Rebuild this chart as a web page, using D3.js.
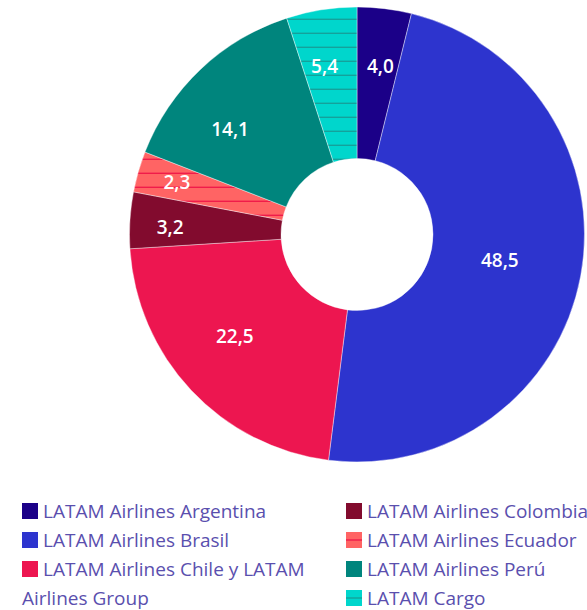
<!DOCTYPE html>
<html>
<head>
<meta charset="utf-8">
<script src="https://cdn.jsdelivr.net/npm/d3@7"></script>
<style>
  body { margin: 0; background: #fff; }
  svg text { font-family: "Open Sans", "Noto Sans", sans-serif; }
</style>
</head>
<body>
<div id="vis"></div>
<script>
// data
var companies = ["LATAM Airlines Argentina", "LATAM Airlines Brasil", "LATAM Airlines Chile y LATAM Airlines Group",
    "LATAM Airlines Colombia", "LATAM Airlines Ecuador", "LATAM Airlines Perú", "LATAM Cargo"];
// slice sizes as drawn in the picture (the printed labels differ a little)
var sliceShares = [3.85, 48.15, 22.0, 4.0, 2.9, 14.1, 5.0];
var valueLabels = ["4,0", "48,5", "22,5", "3,2", "2,3", "14,1", "5,4"];

var colors = ["#1b0088", "#2d34ce", "#ed1650", "#820b2e", "#ff6464", "#00857d", "#00d6cc"];
var hatchColors = [null, null, null, null, "#f01c4a", null, "#14a19b"];

// layout
var width = 587, height = 610;
var cx = 357, cy = 234.5, outerR = 227.5, innerR = 76;
// where each value label sits: [degrees clockwise from top, radius]
var labelPolar = [[7.9, 170], [100, 145], [230.2, 159], [272.1, 187], [286.1, 187.4], [309.7, 165], [349.1, 171.6]];

var svg = d3.select("#vis").append("svg")
    .attr("width", width)
    .attr("height", height);

var defs = svg.append("defs");
hatchColors.forEach(function(hc, i) {
    if (!hc) return;
    var p = defs.append("pattern")
        .attr("id", "hatch" + i)
        .attr("patternUnits", "userSpaceOnUse")
        .attr("width", 14)
        .attr("height", 14);
    p.append("rect").attr("width", 14).attr("height", 14).attr("fill", colors[i]);
    p.append("rect").attr("y", 4.6).attr("width", 14).attr("height", 1.4).attr("fill", hc);
});

var fillOf = function(i) {
    return hatchColors[i] ? "url(#hatch" + i + ")" : colors[i];
};

var pie = d3.pie().sort(null).value(function(d) { return d; });
var arc = d3.arc().innerRadius(innerR).outerRadius(outerR);

// the patterns are in page coordinates, so the slices are drawn in page space
var g = svg.append("g");

var arcs = pie(sliceShares);

g.selectAll("path")
    .data(arcs)
    .enter().append("path")
    .attr("transform", "translate(" + cx + "," + cy + ")")
    .attr("d", arc)
    .attr("fill", function(d, i) { return fillOf(i); })
    .attr("stroke", "#fff")
    .attr("stroke-width", 0.4);

// pattern is defined in user space of the path, shift it back to page space
defs.selectAll("pattern").attr("patternTransform", "translate(" + (-cx) + "," + (-cy) + ")");

g.selectAll("text.val")
    .data(arcs)
    .enter().append("text")
    .attr("class", "val")
    .attr("x", function(d, i) { return cx + Math.sin(labelPolar[i][0] * Math.PI / 180) * labelPolar[i][1]; })
    .attr("y", function(d, i) { return cy - Math.cos(labelPolar[i][0] * Math.PI / 180) * labelPolar[i][1]; })
    .attr("text-anchor", "middle")
    .attr("dy", "0.36em")
    .attr("fill", "#fff")
    .attr("font-size", 19)
    .attr("font-weight", 600)
    .text(function(d, i) { return valueLabels[i]; });

// legend, two columns
var legendCols = [[0, 1, 2], [3, 4, 5, 6]];
var colX = [22, 346], rowY0 = 511, rowStep = 29;
var textColor = "#5a4fae";

legendCols.forEach(function(col, c) {
    col.forEach(function(idx, r) {
        var y = rowY0 + r * rowStep;
        var lg = svg.append("g").attr("transform", "translate(" + colX[c] + "," + y + ")");
        lg.append("rect")
            .attr("x", 0).attr("y", -8)
            .attr("width", 16).attr("height", 16)
            .attr("fill", colors[idx]);
        if (hatchColors[idx]) {
            lg.append("rect")
                .attr("x", 0).attr("y", -0.7)
                .attr("width", 16).attr("height", 1.4)
                .attr("fill", hatchColors[idx]);
        }
        var first = companies[idx], rest = null;
        if (idx === 2) {
            first = "LATAM Airlines Chile y LATAM";
            rest = "Airlines Group";
        }
        lg.append("text")
            .attr("x", 21)
            .attr("dy", "0.35em")
            .attr("fill", textColor)
            .attr("font-size", 19)
            .text(first);
        if (rest) {
            lg.append("text")
                .attr("x", 0)
                .attr("y", rowStep)
                .attr("dy", "0.35em")
                .attr("fill", textColor)
                .attr("font-size", 19)
                .text(rest);
        }
    });
});
</script>
</body>
</html>
